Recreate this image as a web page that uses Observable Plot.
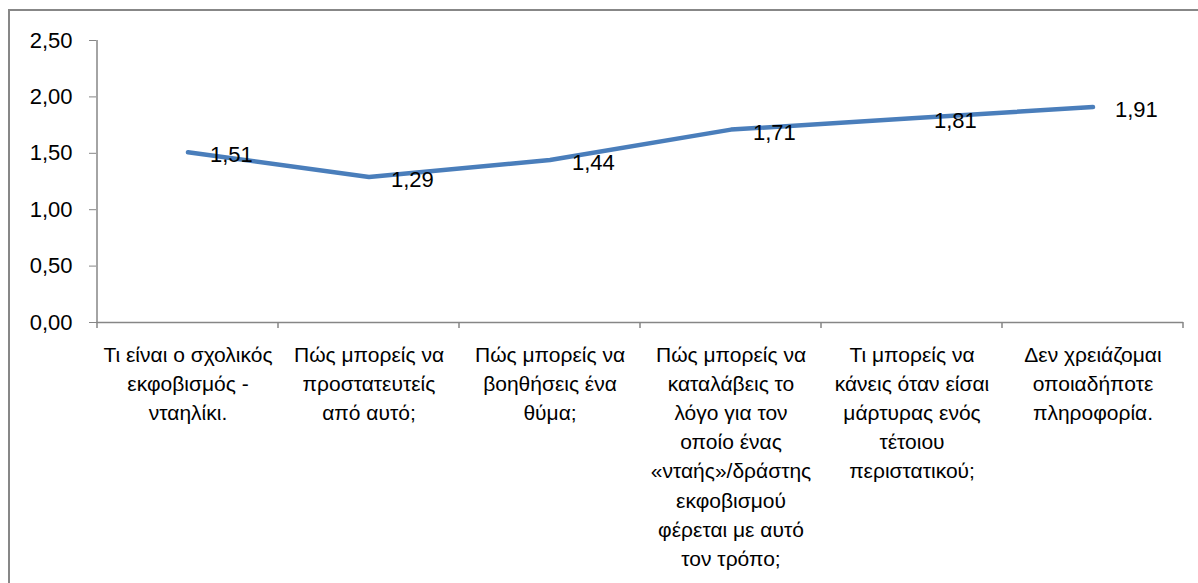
<!DOCTYPE html>
<html>
<head>
<meta charset="utf-8">
<script src="https://cdn.jsdelivr.net/npm/d3@7"></script>
<script src="https://cdn.jsdelivr.net/npm/@observablehq/plot@0.6"></script>
<style>
  html, body { margin: 0; padding: 0; background: #fff; overflow: hidden; width: 1198px; height: 583px; }
  #chart { position: absolute; left: 0; top: 0; }
  #border { position: absolute; left: 8px; top: 9px; width: 1300px; height: 700px; border: 2px solid #878787; border-right: none; border-bottom: none; pointer-events: none; }
</style>
</head>
<body>
<div id="chart"></div>
<div id="border"></div>
<script>
// Categories (line breaks as in the reference)
const categories = [
  "Τι είναι ο σχολικός\nεκφοβισμός -\nνταηλίκι.",
  "Πώς μπορείς να\nπροστατευτείς\nαπό αυτό;",
  "Πώς μπορείς να\nβοηθήσεις ένα\nθύμα;",
  "Πώς μπορείς να\nκαταλάβεις το\nλόγο για τον\nοποίο ένας\n«νταής»/δράστης\nεκφοβισμού\nφέρεται με αυτό\nτον τρόπο;",
  "Τι μπορείς να\nκάνεις όταν είσαι\nμάρτυρας ενός\nτέτοιου\nπεριστατικού;",
  "Δεν χρειάζομαι\nοποιαδήποτε\nπληροφορία."
];
const values = [1.51, 1.29, 1.44, 1.71, 1.81, 1.91];
const yTicks = [0, 0.5, 1, 1.5, 2, 2.5];

const data = categories.map((c, i) => ({cat: c, value: values[i]}));
const fmt = d => d.toFixed(2).replace(".", ",");
const axisGray = "#868686";

// Axis line and category-boundary ticks, positioned through Plot's scales
function axisFrame(index, scales, values, dims) {
  const x = scales.x, y = scales.y;
  let bw = (x && x.bandwidth) ? x.bandwidth() : (scales.scales && scales.scales.x ? scales.scales.x.bandwidth : 0);
  if (!bw) bw = (dims.width - dims.marginLeft - dims.marginRight) / categories.length;
  const g = d3.create("svg:g").attr("stroke", axisGray).attr("stroke-width", 1.5).attr("fill", "none");
  const x0 = x(categories[0]);
  const yBase = y(0);
  g.append("line").attr("x1", x0).attr("x2", x0).attr("y1", y(yTicks[yTicks.length - 1])).attr("y2", yBase);
  const bounds = categories.map(c => x(c)).concat([x(categories[categories.length - 1]) + bw]);
  for (const b of bounds) {
    g.append("line").attr("x1", b).attr("x2", b).attr("y1", yBase).attr("y2", yBase + 6);
  }
  return g.node();
}

const chart = Plot.plot({
  width: 1198,
  height: 583,
  marginLeft: 96,
  marginRight: 15,
  marginTop: 40,
  marginBottom: 261,
  style: {fontFamily: "'Liberation Sans', Arial, sans-serif", color: "#000", background: "transparent"},
  x: {type: "band", domain: categories, padding: 0},
  y: {domain: [0, 2.5]},
  marks: [
    Plot.ruleY([0], {stroke: axisGray, strokeWidth: 1.5}),
    axisFrame,
    Plot.axisY({ticks: yTicks, tickSize: 7, tickPadding: 17, tickFormat: fmt, fontSize: 22, stroke: axisGray, fill: "#000", label: null}),
    Plot.axisX({tickSize: 0, tickPadding: 19, fontSize: 21, lineHeight: 1.385, fill: "#000", label: null}),
    Plot.line(data, {x: "cat", y: "value", stroke: "#4a7ebb", strokeWidth: 4.5, strokeLinejoin: "round", strokeLinecap: "round", curve: "linear"}),
    Plot.text(data, {x: "cat", y: "value", text: d => fmt(d.value), dx: 22, dy: 3, textAnchor: "start", fontSize: 22, fill: "#000"})
  ]
});
document.getElementById("chart").appendChild(chart);
</script>
</body>
</html>
